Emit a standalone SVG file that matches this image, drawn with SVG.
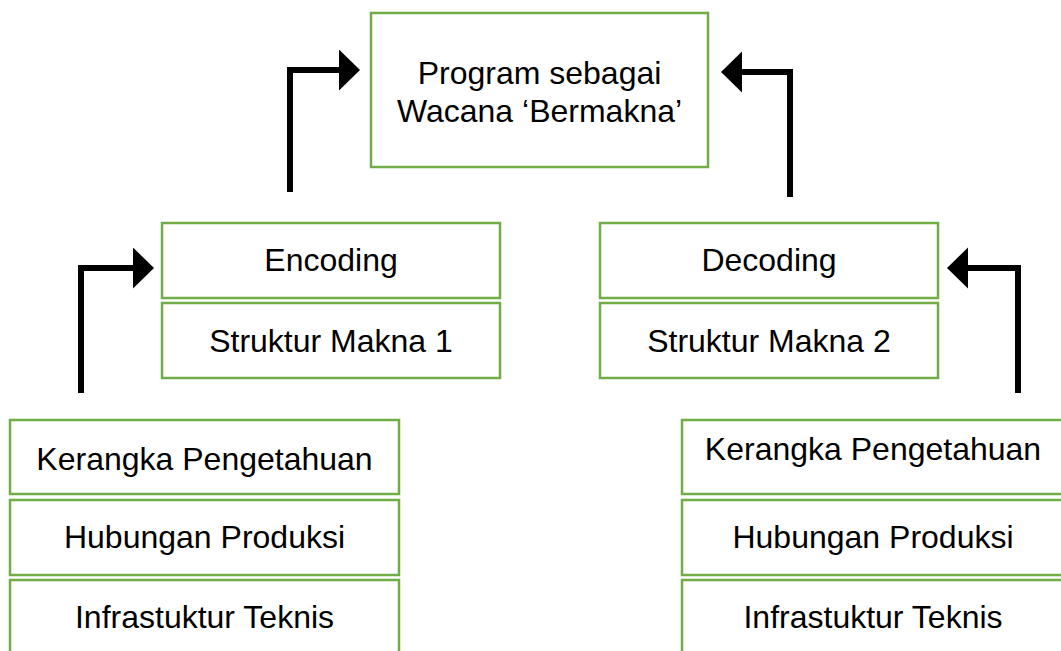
<svg xmlns="http://www.w3.org/2000/svg" width="1061" height="651" viewBox="0 0 1061 651">
<style>
.box{fill:#fff;stroke:#70AD47;stroke-width:2.5}
.t{font-family:"Liberation Sans",Arial,sans-serif;font-size:32px;fill:#000;text-anchor:middle}
.c{fill:none;stroke:#000;stroke-width:6}
</style>
<defs>
<marker id="ah" markerUnits="userSpaceOnUse" markerWidth="22" markerHeight="42" refX="1" refY="20.5" orient="auto" viewBox="0 0 22 42">
<path d="M0,0 L21,20.5 L0,41 z" fill="#000"/>
</marker>
</defs>
<rect width="1061" height="651" fill="#fff"/>
<g id="connectors">
<path class="c" d="M290,192 V70 H340" marker-end="url(#ah)"/>
<path class="c" d="M790,197 V72 H741" marker-end="url(#ah)"/>
<path class="c" d="M81,393 V268 H134" marker-end="url(#ah)"/>
<path class="c" d="M1018,393 V268 H967" marker-end="url(#ah)"/>
</g>
<g id="program"><rect class="box" x="371" y="13" width="337" height="154"/><text class="t" x="539.5" y="84">Program sebagai</text><text class="t" x="539.5" y="122">Wacana ‘Bermakna’</text></g>
<g id="encoding"><rect class="box" x="162" y="223" width="338" height="75"/><text class="t" x="331" y="271">Encoding</text></g>
<g id="struktur1"><rect class="box" x="162" y="303" width="338" height="75"/><text class="t" x="331" y="352">Struktur Makna 1</text></g>
<g id="decoding"><rect class="box" x="600" y="223" width="338" height="75"/><text class="t" x="769" y="271">Decoding</text></g>
<g id="struktur2"><rect class="box" x="600" y="303" width="338" height="75"/><text class="t" x="769" y="352">Struktur Makna 2</text></g>
<g id="kerangka1"><rect class="box" x="10" y="420" width="389" height="74"/><text class="t" x="204.5" y="470">Kerangka Pengetahuan</text></g>
<g id="hubungan1"><rect class="box" x="10" y="500" width="389" height="75"/><text class="t" x="204.5" y="548">Hubungan Produksi</text></g>
<g id="infra1"><rect class="box" x="10" y="580" width="389" height="80"/><text class="t" x="204.5" y="628">Infrastuktur Teknis</text></g>
<g id="kerangka2"><rect class="box" x="682" y="420" width="384" height="74"/><text class="t" x="873" y="460">Kerangka Pengetahuan</text></g>
<g id="hubungan2"><rect class="box" x="682" y="500" width="384" height="75"/><text class="t" x="873" y="548">Hubungan Produksi</text></g>
<g id="infra2"><rect class="box" x="682" y="580" width="384" height="80"/><text class="t" x="873" y="628">Infrastuktur Teknis</text></g>
</svg>
